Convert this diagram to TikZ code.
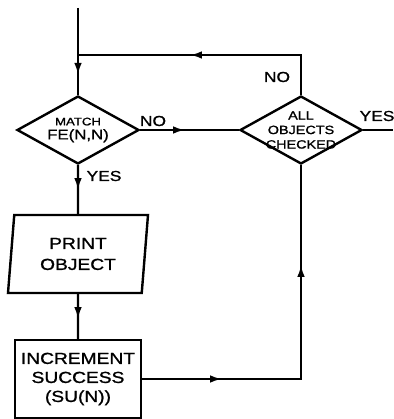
\documentclass[tikz,border=0pt]{standalone}
\usepackage{fontspec}
\newfontfamily\hand[FakeStretch=1.2,FakeBold=1.2]{Liberation Sans}
\usetikzlibrary{shapes.geometric,arrows.meta,decorations.markings}
\tikzset{
  flow/.style={line width=2.4pt},
  arr/.style={postaction={decorate,decoration={markings,
      mark=at position #1 with {\arrow{Latex[length=12pt,width=7.5pt]}}}}},
  dia/.style={draw, line width=2.4pt, diamond, inner sep=0pt, aspect=1.8,
      minimum width=122pt, minimum height=68pt},
  para/.style={draw, line width=2.4pt, trapezium, trapezium left angle=79,
      trapezium right angle=101, trapezium stretches body=true, inner sep=0pt,
      minimum width=140pt, minimum height=78pt, align=center,
      font=\hand\fontsize{16}{21}\selectfont},
  proc/.style={draw, line width=2.4pt, rectangle, inner sep=0pt,
      minimum width=126pt, minimum height=78pt, align=center,
      font=\hand\fontsize{16}{19}\selectfont},
  lbl/.style={inner sep=0pt, font=\hand\fontsize{14.5}{16}\selectfont},
  dtxt/.style={align=center, inner sep=0pt}
}
\begin{document}
\begin{tikzpicture}[x=1pt,y=-1pt]
\useasboundingbox[fill=white] (0,0) rectangle (393,419);
\node[dia, label={[dtxt, font=\hand\fontsize{11}{14}\selectfont]center:{MATCH\\\fontsize{14}{14}\selectfont FE(N,N)}}] (ld) at (78,130) {};
\node[dia, label={[dtxt, font=\hand\fontsize{12}{14.5}\selectfont]center:{ALL\\OBJECTS\\CHECKED}}] (rd) at (301,130) {};
\node[para] (po) at (78,254) {PRINT\\OBJECT};
\node[proc] (inc) at (78,379) {INCREMENT\\SUCCESS\\(SU(N))};
\coordinate (start) at (78,8);
\coordinate (fbline) at (0,55);
\coordinate (yesend) at (393,130);
\node[lbl] (no1) at (153,121) {NO};
\node[lbl] (yes1) at (104,176) {YES};
\node[lbl] (no2) at (277,77) {NO};
\node[lbl] (yes2) at (377,116) {YES};
\draw[flow, arr=67pt] (start) -- (ld.north);
\draw[flow, arr=151pt] (rd.north) -- (rd.north |- fbline) -- (start |- fbline);
\draw[flow, arr=45pt] (ld.east) -- (rd.west);
\draw[flow, arr=25pt] (ld.south) -- (po.north);
\draw[flow, arr=25pt] (po.south) -- (inc.north);
\draw[flow, arr=80pt, arr=273pt] (inc.east) -- (inc.east -| rd.south) -- (rd.south);
\draw[flow] (rd.east) -- (yesend);
\end{tikzpicture}
\end{document}
